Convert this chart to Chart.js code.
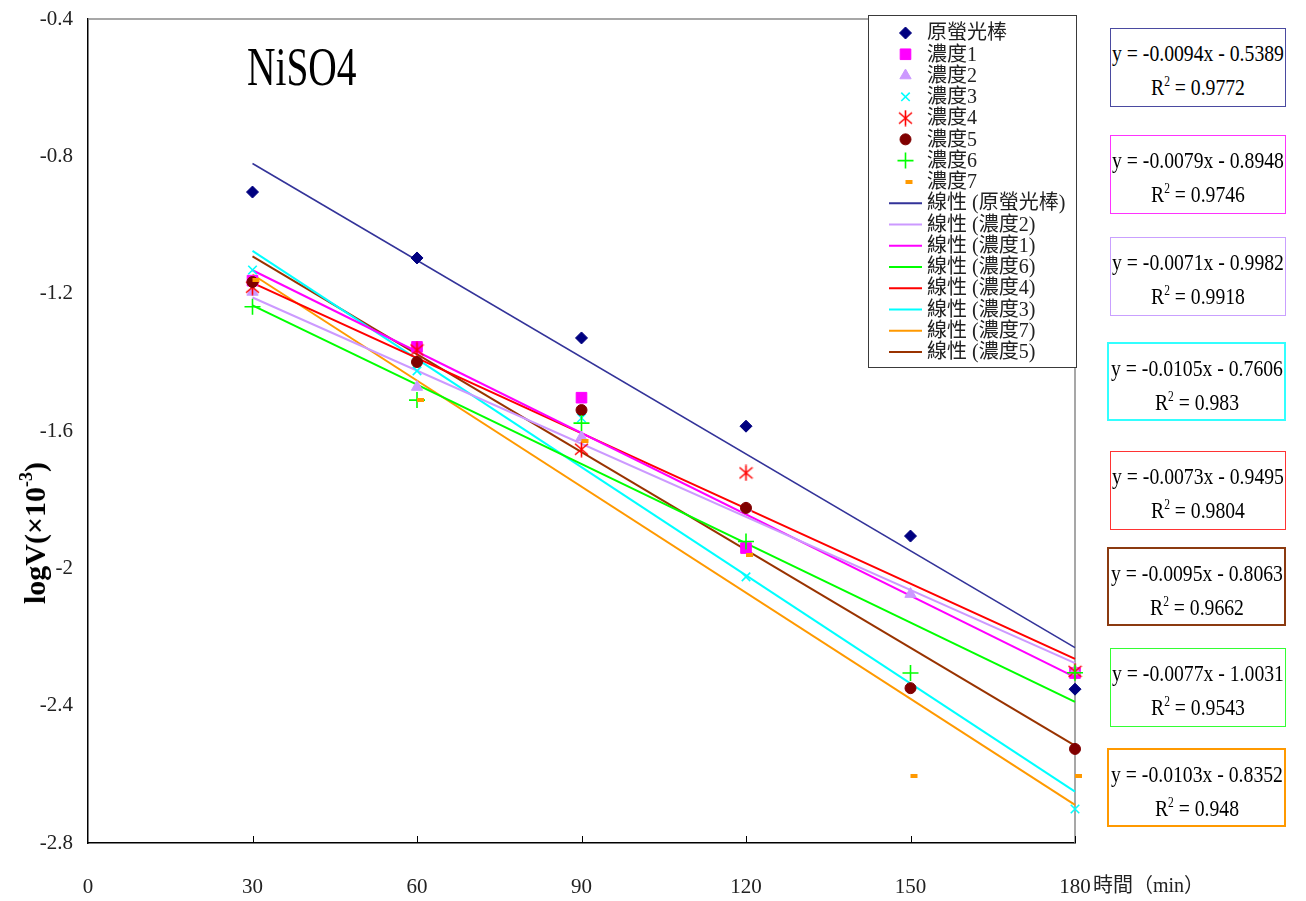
<!DOCTYPE html>
<html><head><meta charset="utf-8">
<script src="https://cdn.jsdelivr.net/npm/chart.js@4"></script>
<style>
html,body{margin:0;padding:0;background:#fff;}
#wrap{position:relative;width:1306px;height:901px;overflow:hidden;background:#fff;}
#c{position:absolute;left:0;top:0;}
.t{position:absolute;font-family:'Liberation Serif','Noto Sans CJK TC',serif;color:#000;white-space:nowrap;line-height:1;}
.eq{position:absolute;box-sizing:border-box;background:#fff;}
.eq .l{position:absolute;left:50%;text-align:center;font-family:'Liberation Serif',serif;font-size:24px;line-height:1;color:#000;white-space:nowrap;transform:translateX(-50%) scaleX(0.82);transform-origin:center;}
.eq sup{font-size:14px;vertical-align:9px;line-height:0;}
</style></head><body>
<div id="wrap"><canvas id="c" width="1306" height="901"></canvas></div>
<script>
// ---- data ----
const xValues = [30, 60, 90, 120, 150, 180];
const seriesNames = ['原螢光棒', '濃度1', '濃度2', '濃度3', '濃度4', '濃度5', '濃度6', '濃度7'];
const valOriginal = [-0.904, -1.096, -1.329, -1.586, -1.906, -2.352];
const valC1 = [-1.162, -1.355, -1.503, -1.941, null, -2.305];
const valC2 = [-1.195, -1.472, -1.618, -1.825, -2.075, -2.300];
const valC3 = [-1.131, -1.425, -1.562, -2.025, null, -2.701];
const valC4 = [-1.181, -1.364, -1.653, -1.722, null, -2.300];
const valC5 = [-1.166, -1.399, -1.539, -1.824, -2.349, -2.526];
const valC6 = [-1.238, -1.510, -1.577, -1.922, -2.305, -2.304];
const valC7 = [-1.160, -1.510, -1.629, -1.961, -2.605, -2.605];
const seriesValues = [valOriginal, valC1, valC2, valC3, valC4, valC5, valC6, valC7];
// trendline equations shown in the chart (y = slope*x + intercept)
const trendSlopes = [-0.0094, -0.0079, -0.0071, -0.0105, -0.0073, -0.0095, -0.0077, -0.0103];
const trendIntercepts = [-0.5389, -0.8948, -0.9982, -0.7606, -0.9495, -0.8063, -1.0031, -0.8352];
const trendR2 = ['0.9772', '0.9746', '0.9918', '0.983', '0.9804', '0.9662', '0.9543', '0.948'];
const trendLegendOrder = [0, 2, 1, 6, 4, 3, 7, 5];
const xTicks = [0, 30, 60, 90, 120, 150, 180];
const yTicks = [-2.8, -2.4, -2, -1.6, -1.2, -0.8, -0.4];
const yTickLabels = ['-2.8', '-2.4', '-2', '-1.6', '-1.2', '-0.8', '-0.4'];

// ---- styles ----
const markerColors = ['#000080', '#ff00ff', '#cc99ff', '#00ffff', '#ff0000', '#800000', '#00ff00', '#ff9900'];
const lineColors = ['#333399', '#ff00ff', '#cc99ff', '#00ffff', '#ff0000', '#993300', '#00ff00', '#ff9900'];
const boxColors = ['#4a4aa0', '#ff33ff', '#c9a0ff', '#33ffff', '#ff3333', '#8b3a10', '#33ff33', '#ff9900'];
const boxTops = [28, 135, 237, 342, 451, 547, 648, 748];
const boxBorder = [1, 1.5, 1.5, 2, 1, 2.5, 1.5, 2];

function makeAsterisk(color) {
  const c = document.createElement('canvas'); c.width = 15; c.height = 17;
  const g = c.getContext('2d'); g.strokeStyle = color; g.lineWidth = 1.6; g.beginPath();
  g.moveTo(7.5, 0.5); g.lineTo(7.5, 16.5);
  g.moveTo(1, 3); g.lineTo(14, 14);
  g.moveTo(14, 3); g.lineTo(1, 14);
  g.stroke(); return c;
}
function makeDash(color) {
  const c = document.createElement('canvas'); c.width = 16; c.height = 4;
  const g = c.getContext('2d'); g.fillStyle = color; g.fillRect(8, 0, 7, 4); return c;
}
const pointStyles = ['rectRot', 'rect', 'triangle', 'crossRot', makeAsterisk('#ff0000'), 'circle', 'cross', makeDash('#ff9900')];
const pointRadii = [6, 7.5, 6.5, 6, 6, 5.5, 8, 5];
const pointBorders = [1, 1, 1, 1.6, 1, 1, 1.6, 1];

const datasets = [];
seriesNames.forEach((name, i) => {
  const pts = [];
  xValues.forEach((x, j) => { if (seriesValues[i][j] !== null) pts.push({x: x, y: seriesValues[i][j]}); });
  datasets.push({
    type: 'scatter', label: name, data: pts, showLine: false,
    pointStyle: pointStyles[i], pointRadius: pointRadii[i], pointHoverRadius: pointRadii[i],
    backgroundColor: markerColors[i], borderColor: markerColors[i], borderWidth: pointBorders[i],
    clip: false, order: 10 - i
  });
});
trendLegendOrder.forEach(i => {
  const x0 = xValues[0], x1 = xValues[xValues.length - 1];
  datasets.push({
    type: 'line', label: '線性 (' + seriesNames[i] + ')',
    data: [{x: x0, y: trendSlopes[i] * x0 + trendIntercepts[i]}, {x: x1, y: trendSlopes[i] * x1 + trendIntercepts[i]}],
    borderColor: lineColors[i], backgroundColor: lineColors[i], borderWidth: i === 0 ? 1.6 : 2,
    pointRadius: 0, fill: false, tension: 0, clip: false, order: 20
  });
});

const framePlugin = {
  id: 'frame',
  beforeDatasetsDraw(chart) {
    const {ctx, chartArea: a, scales: {x}} = chart;
    ctx.save();
    ctx.strokeStyle = '#8a8a8a'; ctx.lineWidth = 1.5;
    ctx.beginPath(); ctx.moveTo(a.left, a.top); ctx.lineTo(a.right, a.top); ctx.lineTo(a.right, a.bottom); ctx.stroke();
    ctx.strokeStyle = '#000'; ctx.lineWidth = 1;
    xTicks.forEach(v => {
      if (v === 0) return;
      const px = Math.round(x.getPixelForValue(v)) + 0.5;
      ctx.beginPath(); ctx.moveTo(px, a.bottom); ctx.lineTo(px, a.bottom - 7); ctx.stroke();
    });
    ctx.restore();
  }
};

const legendPlugin = {
  id: 'boxLegend',
  afterDraw(chart) {
    const ctx = chart.ctx;
    ctx.save();
    const bx = 868.5, by = 15.5, bw = 208, bh = 352;
    ctx.fillStyle = '#fff'; ctx.fillRect(bx, by, bw, bh);
    ctx.strokeStyle = '#3a3a3a'; ctx.lineWidth = 1; ctx.strokeRect(bx, by, bw, bh);
    chart.data.datasets.forEach((ds, i) => {
      const cy = 33 + i * 21.27;
      if (ds.type === 'scatter') {
        ctx.fillStyle = ds.backgroundColor; ctx.strokeStyle = ds.borderColor; ctx.lineWidth = ds.borderWidth;
        Chart.helpers.drawPoint(ctx, {pointStyle: ds.pointStyle, radius: ds.pointRadius, borderWidth: ds.borderWidth, rotation: 0}, 905.5, cy);
      } else {
        ctx.strokeStyle = ds.borderColor; ctx.lineWidth = 2;
        ctx.beginPath(); ctx.moveTo(889, cy); ctx.lineTo(922, cy); ctx.stroke();
      }
      ctx.fillStyle = '#222'; ctx.font = '20px "Liberation Serif", "Noto Sans CJK TC"';
      ctx.textBaseline = 'middle'; ctx.textAlign = 'left';
      ctx.fillText(ds.label, 927, cy + 1);
    });
    ctx.restore();
  }
};

const tickFont = {family: '"Liberation Serif", serif', size: 21};
new Chart(document.getElementById('c'), {
  data: {datasets: datasets},
  options: {
    responsive: false, animation: false, devicePixelRatio: 1,
    layout: {padding: {left: 0, right: 231, top: 19, bottom: 0}},
    plugins: {legend: {display: false}, tooltip: {enabled: false}},
    scales: {
      x: {
        type: 'linear', min: 0, max: 180,
        afterBuildTicks: s => { s.ticks = xTicks.map(v => ({value: v})); },
        afterFit: s => { s.height = 58; },
        grid: {display: false}, border: {display: true, color: '#000', width: 1.5},
        ticks: {font: tickFont, color: '#222', padding: 24, maxRotation: 0, autoSkip: false,
          callback: v => String(v)}
      },
      y: {
        type: 'linear', min: -2.8, max: -0.4,
        afterBuildTicks: s => { s.ticks = yTicks.map(v => ({value: v})); },
        afterFit: s => { s.width = 88; s.paddingTop = 0; s.paddingBottom = 0; },
        grid: {display: false}, border: {display: true, color: '#000', width: 1.5},
        ticks: {font: tickFont, color: '#222', padding: 7, autoSkip: false,
          callback: (v, idx) => yTickLabels[idx]}
      }
    }
  },
  plugins: [framePlugin, legendPlugin]
});

// ---- text overlays ----
const wrap = document.getElementById('wrap');
function addDiv(html, css, cls) {
  const d = document.createElement('div'); d.className = cls || 't'; d.innerHTML = html;
  Object.assign(d.style, css); wrap.appendChild(d); return d;
}
addDiv('NiSO4', {left: '247px', top: '40px', fontSize: '54px', transform: 'scaleX(0.73)', transformOrigin: 'left top'});
addDiv('logV(×10<sup style="font-size:18px;vertical-align:13px;line-height:0">-3</sup>)',
  {left: '35px', top: '533px', fontSize: '30px', fontWeight: 'bold', transform: 'translate(-50%,-50%) rotate(-90deg)'});
addDiv('時間（min）', {left: '1093px', top: '875px', fontSize: '20px', color: '#222', fontFamily: '"Liberation Serif","Noto Sans CJK TC",serif'});

trendSlopes.forEach((m, i) => {
  const b = trendIntercepts[i];
  const eq = 'y = ' + m.toFixed(4) + 'x - ' + Math.abs(b).toFixed(4);
  const box = document.createElement('div'); box.className = 'eq';
  const left = boxBorder[i] >= 2 ? 1107 : 1110;
  Object.assign(box.style, {left: left + 'px', top: boxTops[i] + 'px', width: (1286 - left) + 'px', height: '79px',
    border: boxBorder[i] + 'px solid ' + boxColors[i]});
  box.innerHTML = '<div class="l" style="top:12px">' + eq + '</div>' +
    '<div class="l" style="top:46px">R<sup>2</sup> = ' + trendR2[i] + '</div>';
  wrap.appendChild(box);
});
</script>
</body></html>
